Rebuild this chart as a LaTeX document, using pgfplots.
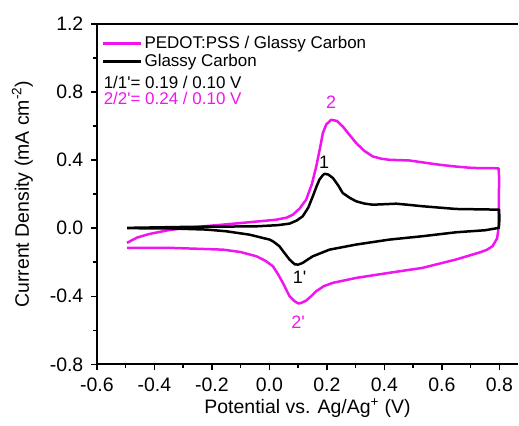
\documentclass[border=0pt]{standalone}
\usepackage{fontspec}
\setmainfont{Liberation Sans}
\usepackage{pgfplots}
\pgfplotsset{compat=1.18}
\definecolor{pedot}{RGB}{240,20,240}
\newcommand{\pr}{\textquotesingle}

\begin{document}
\begin{tikzpicture}
\begin{axis}[
    scale only axis,
    width=422pt, height=341pt,
    xmin=-0.6, xmax=0.865,
    ymin=-0.8, ymax=1.2,
    axis lines*=left,
    axis line style={line width=1.8pt},
    tick align=outside,
    major tick length=6pt, minor tick length=3.5pt,
    every tick/.style={line width=1.5pt, black},
    xtick={-0.6,-0.4,...,0.8},
    ytick={-0.8,-0.4,...,1.2},
    minor x tick num=1, minor y tick num=1,
    /pgf/number format/assume math mode=true,
    xticklabel style={yshift=-4pt, /pgf/number format/.cd, fixed, fixed zerofill, precision=1},
    yticklabel style={xshift=-4pt, /pgf/number format/.cd, fixed, fixed zerofill, precision=1},
    tick label style={font=\fontsize{19.5}{21}\selectfont},
    label style={font=\fontsize{19.5}{22}\selectfont},
    xlabel={Potential vs. Ag/Ag\textsuperscript{+} (V)},
    ylabel={Current Density (mA cm\textsuperscript{-2})},
    xlabel style={yshift=0pt},
    ylabel style={yshift=10pt},
    legend style={at={(0.005,0.975)}, anchor=north west, draw=none, fill=none,
        font=\fontsize{17}{19}\selectfont, row sep=0pt},
    legend cell align=left,
    legend image code/.code={\draw[#1] (0pt,0pt) -- (38pt,0pt);},
    clip=false,
]
\addplot[pedot, line width=2.5pt, line join=round] coordinates {
(-0.495,-0.086) (-0.46,-0.055) (-0.42,-0.035) (-0.347,-0.010) (-0.25,0.008)
(-0.161,0.021) (-0.07,0.035) (0.024,0.050) (0.06,0.062) (0.082,0.080)
(0.105,0.115) (0.128,0.168) (0.148,0.26) (0.163,0.363) (0.176,0.47)
(0.186,0.559) (0.198,0.610) (0.215,0.637) (0.235,0.630) (0.255,0.598)
(0.278,0.55) (0.302,0.500) (0.33,0.455) (0.359,0.422) (0.39,0.408)
(0.417,0.402) (0.487,0.398) (0.54,0.385) (0.591,0.373) (0.65,0.362)
(0.707,0.354) (0.797,0.352) (0.799,0.30) (0.797,0.0) (0.792,-0.06)
(0.776,-0.106) (0.755,-0.128) (0.730,-0.143) (0.649,-0.184) (0.533,-0.233)
(0.417,-0.262) (0.302,-0.292) (0.221,-0.321) (0.19,-0.34) (0.163,-0.370)
(0.145,-0.40) (0.128,-0.425) (0.110,-0.440) (0.100,-0.442) (0.085,-0.425)
(0.070,-0.399) (0.047,-0.321) (0.03,-0.27) (0.012,-0.223) (-0.015,-0.19)
(-0.045,-0.165) (-0.1,-0.14) (-0.161,-0.126) (-0.335,-0.116) (-0.495,-0.116)
};
\addlegendentry{PEDOT:PSS / Glassy Carbon}
\addplot[black, line width=2.5pt, line join=round] coordinates {
(-0.495,0.002) (-0.277,0.008) (-0.045,0.011) (0.03,0.018) (0.070,0.027)
(0.095,0.045) (0.116,0.070) (0.135,0.12) (0.151,0.187) (0.164,0.245)
(0.174,0.285) (0.185,0.31) (0.192,0.320) (0.205,0.315) (0.221,0.295)
(0.24,0.25) (0.255,0.207) (0.28,0.178) (0.302,0.158) (0.33,0.145)
(0.359,0.138) (0.40,0.141) (0.441,0.144) (0.48,0.138) (0.533,0.129)
(0.649,0.113) (0.799,0.109) (0.800,0.05) (0.798,0.002) (0.75,-0.012)
(0.649,-0.024) (0.533,-0.047) (0.417,-0.067) (0.302,-0.096) (0.209,-0.126)
(0.151,-0.165) (0.130,-0.188) (0.116,-0.204) (0.100,-0.214) (0.088,-0.212)
(0.070,-0.184) (0.050,-0.14) (0.035,-0.106) (0.015,-0.08) (0.001,-0.067)
(-0.069,-0.038) (-0.15,-0.018) (-0.219,-0.008) (-0.35,-0.001) (-0.495,0.0)
};
\addlegendentry{Glassy Carbon}
\draw[line width=1.8pt] (rel axis cs:0,1) -- (rel axis cs:1,1);
\path (rel axis cs:0,0) ++(-97pt,-61pt);
\path (rel axis cs:1,1) ++(0pt,24pt);
\node[anchor=west, font=\fontsize{17}{19}\selectfont] at (axis cs:-0.588,0.854) {1/1\pr= 0.19 / 0.10 V};
\node[anchor=west, pedot, font=\fontsize{17}{19}\selectfont] at (axis cs:-0.588,0.760) {2/2\pr= 0.24 / 0.10 V};
\node[pedot, font=\fontsize{18}{20}\selectfont] at (axis cs:0.215,0.74) {2};
\node[font=\fontsize{18}{20}\selectfont] at (axis cs:0.19,0.39) {1};
\node[font=\fontsize{18}{20}\selectfont] at (axis cs:0.105,-0.29) {1\pr};
\node[pedot, font=\fontsize{18}{20}\selectfont] at (axis cs:0.10,-0.55) {2\pr};
\end{axis}
\end{tikzpicture}
\end{document}
